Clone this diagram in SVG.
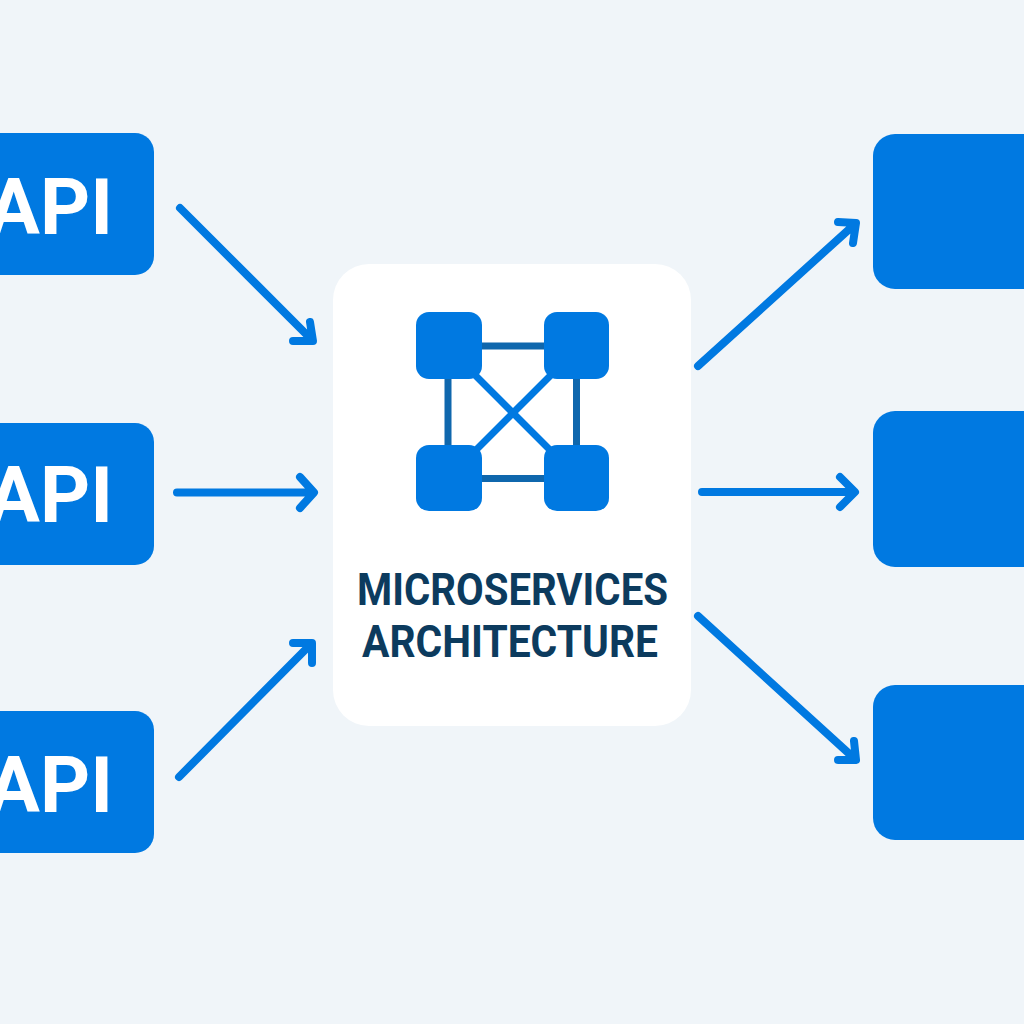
<svg xmlns="http://www.w3.org/2000/svg" width="1024" height="1024" viewBox="0 0 1024 1024">
<style>
.box{fill:#0079e1}
.api{font:700 78px "Roboto","Liberation Sans",sans-serif;fill:#fff;text-anchor:end}
.title{font:700 44px "Roboto","Liberation Sans",sans-serif;fill:#0c3b5e}
.arrow{fill:none;stroke:#0079e1;stroke-width:8;stroke-linecap:round;stroke-linejoin:round}
</style>
<rect width="1024" height="1024" fill="#f0f5f9"/>
<g id="connectors">
<path class="arrow" d="M180 208L312 340M293 341H313L310 322"/>
<path class="arrow" d="M177 492.500H313M300 477L314 492.500L300 508"/>
<path class="arrow" d="M179 777L311 644M293 643H312V663"/>
<path class="arrow" d="M698 366L855 224M838 222L856 223L853 243"/>
<path class="arrow" d="M702 492H854M840 477L855 492L840 507"/>
<path class="arrow" d="M698 616L855 759M854 741L856 760H838"/>
</g>
<g id="api-1"><rect class="box" x="-40" y="133" width="194" height="142" rx="19"/><text class="api" x="113" y="234">API</text></g>
<g id="api-2"><rect class="box" x="-40" y="423" width="194" height="142" rx="19"/><text class="api" x="113" y="522">API</text></g>
<g id="api-3"><rect class="box" x="-40" y="711" width="194" height="142" rx="19"/><text class="api" x="113" y="812">API</text></g>
<g id="out-1"><rect class="box" x="873" y="134" width="191" height="155" rx="22"/></g>
<g id="out-2"><rect class="box" x="873" y="411" width="191" height="156" rx="22"/></g>
<g id="out-3"><rect class="box" x="873" y="685" width="191" height="155" rx="22"/></g>
<g id="center">
<rect x="333" y="264" width="358" height="462" rx="36" fill="#fff"/>
<path d="M480 346H546M480 478.500H546M448 378V446M576.500 378V446" fill="none" stroke="#0f67ad" stroke-width="7"/>
<path d="M470 370L556 456M556 370L470 456" fill="none" stroke="#0079e1" stroke-width="7"/>
<rect class="box" x="416" y="312" width="66" height="67" rx="13"/>
<rect class="box" x="544" y="312" width="65" height="67" rx="13"/>
<rect class="box" x="416" y="445" width="66" height="66" rx="13"/>
<rect class="box" x="544" y="445" width="65" height="66" rx="13"/>
<text class="title" x="357" y="605" textLength="311" lengthAdjust="spacingAndGlyphs">MICROSERVICES</text>
<text class="title" x="362" y="657" textLength="296" lengthAdjust="spacingAndGlyphs">ARCHITECTURE</text>
</g>
</svg>
